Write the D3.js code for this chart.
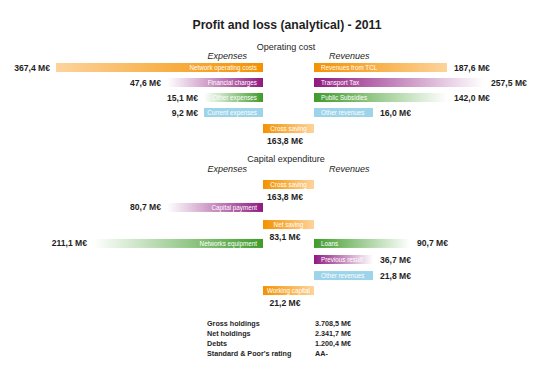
<!DOCTYPE html>
<html><head><meta charset="utf-8">
<script src="https://cdnjs.cloudflare.com/ajax/libs/d3/7.8.5/d3.min.js"></script>
<style>html,body{margin:0;padding:0;background:#fff}svg{display:block}text{font-family:"Liberation Sans",Arial,sans-serif}</style>
</head><body><svg id="c" width="540" height="368"></svg>
<script>
// ---- data ----
const title = "Profit and loss (analytical) - 2011";
const sectionTitles = ["Operating cost", "Capital expenditure"];
const sideTitles = ["Expenses", "Revenues"];

const opExpLabels = ["Network operating costs", "Financial charges", "Other expenses", "Current expenses"];
const opExpValues = [367.4, 47.6, 15.1, 9.2];
const opRevLabels = ["Revenues from TCL", "Transport Tax", "Public Subsidies", "Other revenues"];
const opRevValues = [187.6, 257.5, 142.0, 16.0];
const opBalanceLabels = ["Cross saving"];
const opBalanceValues = [163.8];

const capExpLabels = ["Capital payment", "Networks equipment"];
const capExpValues = [80.7, 211.1];
const capRevLabels = ["Loans", "Previous result", "Other revenues"];
const capRevValues = [90.7, 36.7, 21.8];
const capBalanceLabels = ["Cross saving", "Net saving", "Working capital"];
const capBalanceValues = [163.8, 83.1, 21.2];

const summaryLabels = ["Gross holdings", "Net holdings", "Debts", "Standard & Poor's rating"];
const summaryValues = ["3.708,5 M€", "2.341,7 M€", "1.200,4 M€", "AA-"];

// ---- styling / layout ----
const fmt = v => d3.format(".1f")(v).replace(".", ",") + " M€";
const svg = d3.select("#c");
const cx0 = 263, cx1 = 314;           // center column edges
const rowY = d3.scaleLinear().domain([0, 1]).range([63, 78]); // slot -> px
const barH = 9;
const widthScale = d3.scaleThreshold().domain([40, 100, 200, 300]).range([59, 96, 133, 170, 207]);
const palette = {
  orange: ["#f39200", "#fdd39c"],
  purple: ["#8f1a80", "#ffffff"],
  green: ["#3f9b2a", "#ffffff"],
  blue: ["#9dd4e9", "#9dd4e9"]
};
const defs = svg.append("defs");
for (const [k, c] of Object.entries(palette)) {
  for (const dir of ["L", "R"]) {
    const g = defs.append("linearGradient").attr("id", "g" + k + dir)
      .attr("x1", dir === "L" ? 1 : 0).attr("x2", dir === "L" ? 0 : 1).attr("y1", 0).attr("y2", 0);
    g.append("stop").attr("offset", 0).attr("stop-color", c[0]);
    g.append("stop").attr("offset", 1).attr("stop-color", c[1]);
  }
}
const txtCol = "#1e1e1e";

svg.append("text").attr("x", 287).attr("y", 25).attr("text-anchor", "middle").attr("dy", "0.35em")
  .attr("font-size", 12.2).attr("font-weight", "bold").attr("fill", txtCol).text(title);

function headers(sy, hy, name) {
  svg.append("text").attr("x", 286).attr("y", sy).attr("dy", "0.35em").attr("text-anchor", "middle")
    .attr("font-size", 9).attr("fill", txtCol).text(name);
  svg.append("text").attr("x", 247).attr("y", hy).attr("dy", "0.35em").attr("text-anchor", "end")
    .attr("font-size", 9).attr("font-style", "italic").attr("fill", txtCol).text(sideTitles[0]);
  svg.append("text").attr("x", 329).attr("y", hy).attr("dy", "0.35em").attr("text-anchor", "start")
    .attr("font-size", 9).attr("font-style", "italic").attr("fill", txtCol).text(sideTitles[1]);
}
headers(46.5, 55.8, sectionTitles[0]);
headers(159, 168.5, sectionTitles[1]);

function bars(labels, values, slots, colors, side) {
  const g = svg.append("g");
  const rows = labels.map((l, i) => ({ l, v: values[i], s: slots[i], c: colors[i] }));
  const sel = g.selectAll("g").data(rows).join("g")
    .attr("transform", d => `translate(0,${rowY(d.s)})`);
  sel.append("rect")
    .attr("x", d => side === "L" ? cx0 - widthScale(d.v) : cx1)
    .attr("width", d => widthScale(d.v)).attr("height", barH)
    .attr("fill", d => `url(#g${d.c}${side})`);
  sel.append("text")
    .attr("x", side === "L" ? cx0 - 6 : cx1 + 7).attr("y", barH / 2).attr("dy", "0.35em")
    .attr("text-anchor", side === "L" ? "end" : "start")
    .attr("font-size", 6.3).attr("fill", "#fff").text(d => d.l);
  sel.append("text")
    .attr("x", d => side === "L" ? cx0 - widthScale(d.v) - 6 : cx1 + widthScale(d.v) + 7)
    .attr("y", barH / 2).attr("dy", "0.35em")
    .attr("text-anchor", side === "L" ? "end" : "start")
    .attr("font-size", 8.6).attr("font-weight", "bold").attr("fill", txtCol).text(d => fmt(d.v));
}
function balances(labels, values, slots) {
  const rows = labels.map((l, i) => ({ l, v: values[i], s: slots[i] }));
  const sel = svg.append("g").selectAll("g").data(rows).join("g")
    .attr("transform", d => `translate(0,${rowY(d.s)})`);
  sel.append("rect").attr("x", cx0).attr("width", cx1 - cx0).attr("height", barH).attr("fill", "url(#gorangeR)");
  sel.append("text").attr("x", (cx0 + cx1) / 2).attr("y", barH / 2).attr("dy", "0.35em").attr("text-anchor", "middle")
    .attr("font-size", 6.3).attr("fill", "#fff").text(d => d.l);
  sel.append("text").attr("x", 285).attr("y", barH + 8).attr("dy", "0.35em").attr("text-anchor", "middle")
    .attr("font-size", 8.6).attr("font-weight", "bold").attr("fill", txtCol).text(d => fmt(d.v));
}

const cols4 = ["orange", "purple", "green", "blue"];
bars(opExpLabels, opExpValues, [0, 1, 2, 3], cols4, "L");
bars(opRevLabels, opRevValues, [0, 1, 2, 3], cols4, "R");
balances(opBalanceLabels, opBalanceValues, [4.07]);

bars(capExpLabels, capExpValues, [9.33, 11.73], ["purple", "green"], "L");
bars(capRevLabels, capRevValues, [11.73, 12.8, 13.87], ["green", "purple", "blue"], "R");
balances(capBalanceLabels, capBalanceValues, [7.8, 10.47, 14.87]);

// summary table
const sy = d3.scalePoint().domain(summaryLabels).range([323, 353]);
const tg = svg.append("g");
tg.selectAll("text.l").data(summaryLabels).join("text").attr("class", "l")
  .attr("x", 207).attr("y", d => sy(d)).attr("dy", "0.35em")
  .attr("font-size", 7.2).attr("font-weight", "bold").attr("fill", txtCol).text(d => d);
tg.selectAll("text.v").data(summaryValues).join("text").attr("class", "v")
  .attr("x", 315).attr("y", (d, i) => sy(summaryLabels[i])).attr("dy", "0.35em")
  .attr("font-size", 7.2).attr("font-weight", "bold").attr("fill", txtCol).text(d => d);
</script></body></html>
